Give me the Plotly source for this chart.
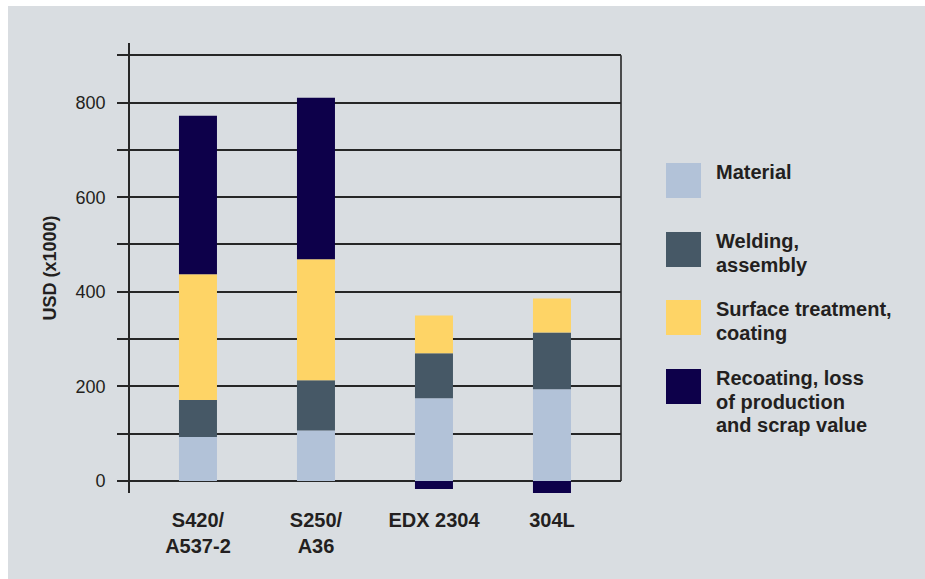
import plotly.graph_objects as go

categories = ["S420/<br>A537-2", "S250/<br>A36", "EDX 2304", "304L"]
material = [93, 107, 175, 194]
welding = [78, 106, 95, 120]
surface = [266, 256, 80, 72]
recoating = [335, 341, -17, -30]

series_names = ["Material", "Welding,<br>assembly", "Surface treatment,<br>coating",
                "Recoating, loss<br>of production<br>and scrap value"]
series_colors = ["#b2c2d8", "#465866", "#fed466", "#0d004a"]
series_values = [material, welding, surface, recoating]

ytick_vals = [0, 100, 200, 300, 400, 500, 600, 700, 800, 900]
ytick_text = ["0", "", "200", "", "400", "", "600", "", "800", ""]

W, H = 925, 579
L, R, T, B = 130, 621, 43, 493
PW, PH = R - L, B - T


def px(x):
    return (x - L) / PW


def py(y):
    return (B - y) / PH


xs = list(range(len(categories)))
fig = go.Figure()
for name, col, vals in zip(series_names, series_colors, series_values):
    fig.add_trace(go.Bar(x=xs, y=vals, name=name, marker=dict(color=col, line=dict(width=0)),
                         width=0.322, showlegend=False))

dark = "#262626"
fig.update_layout(
    width=W, height=H,
    margin=dict(l=L, r=W - R, t=T, b=H - B, pad=0),
    paper_bgcolor="white",
    plot_bgcolor="rgba(0,0,0,0)",
    barmode="relative",
    font=dict(family="Liberation Sans, Arial, sans-serif", color="#231f20"),
    xaxis=dict(range=[-0.576, 3.585], tickvals=xs, ticktext=[f"<b>{c}</b>" for c in categories],
               showgrid=False, zeroline=False, showline=False, ticks="",
               tickfont=dict(size=20, color="#231f20"), ticklabelstandoff=13),
    yaxis=dict(range=[-25.4, 926], tickvals=ytick_vals, ticktext=ytick_text,
               showgrid=True, gridcolor=dark, gridwidth=1.6, zeroline=False,
               showline=True, linecolor=dark, linewidth=1.6,
               ticks="outside", ticklen=11, tickcolor=dark, tickwidth=1.6,
               tickfont=dict(size=18, color="#231f20"), ticklabelstandoff=8,
               title=dict(text="<b>USD (x1000)</b>", font=dict(size=18, color="#231f20"), standoff=14)),
)

shapes = [
    dict(type="rect", xref="paper", yref="paper", x0=px(8), x1=px(W + 5), y0=py(H + 5), y1=py(6),
         fillcolor="#d9dde1", line=dict(width=0), layer="below"),
    dict(type="line", xref="paper", yref="y", x0=1, x1=1, y0=0, y1=900,
         line=dict(color=dark, width=1.6), layer="below"),
]
annotations = []
legend_tops = [163, 232, 300, 369]
line_gap = 23.7
for top, name, col in zip(legend_tops, series_names, series_colors):
    shapes.append(dict(type="rect", xref="paper", yref="paper", x0=px(666), x1=px(701),
                       y0=py(top + 35), y1=py(top), fillcolor=col, line=dict(width=0)))
    for i, part in enumerate(name.split("<br>")):
        annotations.append(dict(xref="paper", yref="paper", x=px(714), y=py(top - 4 + i * line_gap),
                                xanchor="left", yanchor="top", align="left", showarrow=False,
                                text=f"<b>{part}</b>", font=dict(size=20, color="#231f20")))
fig.update_layout(shapes=shapes, annotations=annotations)
fig.write_html("out.html")
